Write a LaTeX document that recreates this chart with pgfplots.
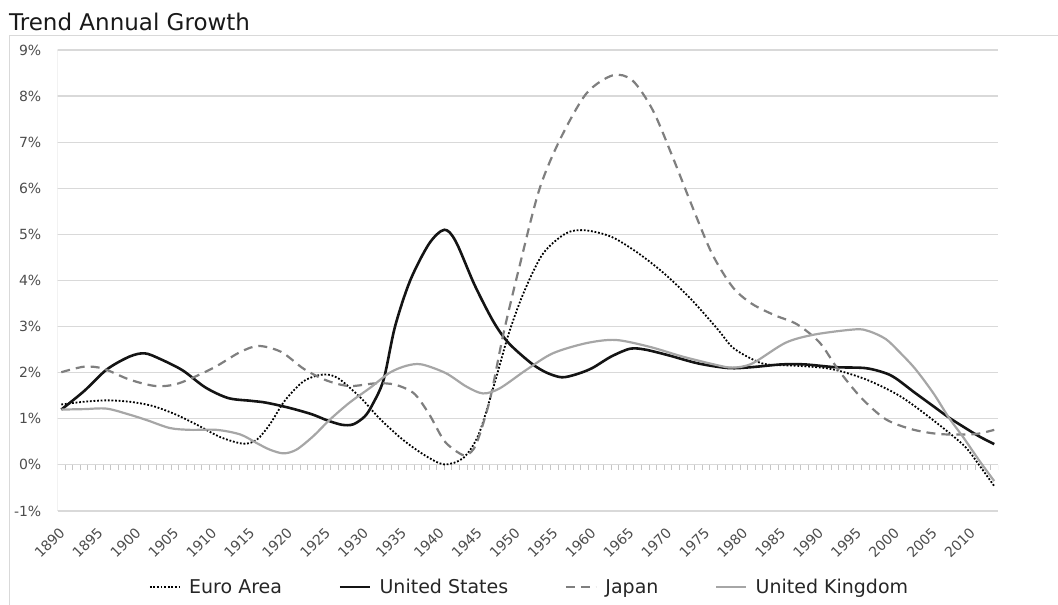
\documentclass[border=0pt]{standalone}
\usepackage{fontspec}
\setmainfont{DejaVu Sans}
\usepackage{pgfplots}
\pgfplotsset{compat=1.18}
\definecolor{gridc}{HTML}{D9D9D9}
\definecolor{lab}{HTML}{4D4D4D}
\definecolor{jp}{HTML}{7F7F7F}
\definecolor{uk}{HTML}{A6A6A6}

\begin{document}
\begin{tikzpicture}
\begin{axis}[
  name=ax,
  scale only axis,
  width=940.5bp, height=461bp,
  xmin=1889.5, xmax=2013.5,
  ymin=-1, ymax=9,
  axis line style={draw=none},
  major tick length=0pt,
  xtick={1890,1895,...,2010},
  xticklabels={1890,1895,1900,1905,1910,1915,1920,1925,1930,1935,1940,1945,1950,1955,1960,1965,1970,1975,1980,1985,1990,1995,2000,2005,2010},
  ytick={-1,0,...,9},
  yticklabels={-1\%,0\%,1\%,2\%,3\%,4\%,5\%,6\%,7\%,8\%,9\%},
  ticklabel style={font=\fontsize{14bp}{16bp}\selectfont, text=lab, inner sep=0pt},
  xticklabel style={xshift=1bp, yshift=-19bp, rotate=45, anchor=east},
  yticklabel style={xshift=-16bp, anchor=east},
  ymajorgrids,
  grid style={gridc, line width=1.2bp},
  legend columns=4,
  legend style={at={(axis description cs:0.5,0)}, anchor=center, yshift=-76bp, xshift=2bp,
    draw=none, fill=none, font=\fontsize{19bp}{22bp}\selectfont,
    /tikz/every even column/.append style={column sep=54bp},
    nodes={inner sep=2.5bp, text=black!85}},
  legend image code/.code={\draw[#1] (0bp,0bp) -- (30bp,0bp); \path (36bp,0bp);},
]
% left axis line, its ticks, and the small year ticks under 0%
\draw[gridc, line width=1.2bp] (axis cs:1889.5,-1) -- (axis cs:1889.5,9);
\pgfplotsinvokeforeach{-1,0,...,9}{
  \draw[gridc, line width=1.2bp] (axis cs:1889.5,#1) -- ++(-5bp,0bp);
}
\pgfplotsinvokeforeach{1890,...,2013}{
  \draw[gridc!80!black!70, line width=0.9bp] (axis cs:#1.5,0) -- ++(0bp,-5bp);
}

\addplot[black, line width=1.8bp, dash pattern=on 1.8bp off 1.8bp, smooth] coordinates {
(1890,1.31) (1893,1.37) (1896,1.40) (1899,1.37) (1902,1.28) (1905,1.10)
(1908,0.86) (1911,0.60) (1914,0.46) (1915.8,0.55) (1917.5,0.88) (1919.5,1.40)
(1922,1.82) (1924.5,1.96) (1926.5,1.88) (1929.5,1.45) (1932,1.00) (1935,0.55)
(1938,0.20) (1940.5,0.01) (1943,0.15) (1945,0.65) (1947,1.70) (1949,2.85)
(1951,3.75) (1953.5,4.58) (1956.5,5.02) (1959,5.09) (1962.5,4.95) (1966,4.60)
(1969.5,4.15) (1973,3.60) (1976.5,2.95) (1978.5,2.55) (1981,2.30) (1983,2.18)
(1987,2.15) (1991.5,2.08) (1996,1.86) (2000.5,1.50) (2004.8,0.99) (2009,0.42)
(2011,0.00) (2013,-0.46)
};
\addlegendentry{Euro Area}

\addplot[black!92, line width=2.6bp, smooth] coordinates {
(1890,1.20) (1893,1.60) (1896,2.07) (1899,2.35) (1901,2.42) (1903,2.30)
(1906,2.05) (1909,1.68) (1912,1.45) (1915,1.39) (1917,1.35) (1920,1.24)
(1923,1.10) (1925,0.97) (1927,0.87) (1928.5,0.88) (1930,1.05) (1931,1.30)
(1932.5,1.85) (1934,3.00) (1936,4.00) (1938.5,4.80) (1940.5,5.10) (1942,4.85)
(1944.5,3.90) (1947,3.10) (1949,2.64) (1952,2.20) (1954,2.00) (1956,1.90)
(1958,1.97) (1960,2.10) (1962.5,2.35) (1965,2.52) (1967,2.50) (1970,2.38)
(1974,2.20) (1978,2.10) (1981,2.12) (1985,2.18) (1988,2.18) (1992,2.12)
(1996,2.10) (1998.5,2.00) (2000,1.88) (2002.5,1.57) (2005,1.27) (2007,1.03)
(2009,0.82) (2011,0.62) (2013,0.45)
};
\addlegendentry{United States}

\addplot[jp, line width=2.2bp, dash pattern=on 9bp off 6bp, smooth] coordinates {
(1890,2.01) (1893,2.13) (1895.5,2.09) (1899,1.85) (1902.5,1.71) (1905.5,1.77)
(1910,2.10) (1913.5,2.44) (1916,2.58) (1919,2.45) (1922,2.08) (1925,1.83)
(1928,1.71) (1931.5,1.77) (1934,1.74) (1936.5,1.55) (1938.5,1.10) (1940.5,0.52)
(1942.5,0.25) (1943.5,0.22) (1944.7,0.45) (1946.5,1.41) (1948.3,2.85) (1950.4,4.30)
(1953,5.96) (1955.7,7.04) (1959.2,8.05) (1962.7,8.45) (1965.3,8.34) (1968,7.69)
(1970.6,6.68) (1973.2,5.60) (1975.8,4.58) (1978.5,3.86) (1981,3.50) (1984,3.25)
(1987,3.05) (1990,2.65) (1992.5,2.05) (1995.5,1.45) (1998.7,0.99) (2002.2,0.77)
(2005.7,0.67) (2009.2,0.66) (2011,0.68) (2013,0.76)
};
\addlegendentry{Japan}

\addplot[uk, line width=2.2bp, smooth] coordinates {
(1890,1.20) (1893,1.21) (1896,1.22) (1899,1.09) (1901.3,0.97) (1904.3,0.80)
(1907,0.76) (1910.5,0.76) (1913.6,0.66) (1915.8,0.47) (1917.5,0.33) (1919.3,0.25)
(1921,0.33) (1923.2,0.62) (1925.4,0.98) (1928,1.35) (1930.7,1.67) (1933.3,2.00)
(1935.5,2.15) (1937.5,2.18) (1940.7,1.99) (1943.4,1.70) (1945.6,1.55) (1947.8,1.66)
(1951.3,2.06) (1954.8,2.42) (1959.2,2.64) (1963.1,2.71) (1967.6,2.56) (1971.9,2.35)
(1976.3,2.17) (1978.5,2.11) (1981.1,2.20) (1985.5,2.65) (1989.4,2.83) (1994.7,2.94)
(1996.5,2.90) (1998.7,2.73) (2000.5,2.45) (2002.6,2.08) (2005,1.55) (2007,1.03)
(2009,0.58) (2011,0.10) (2013,-0.35)
};
\addlegendentry{United Kingdom}
\end{axis}

\node[anchor=base west, font=\fontsize{23bp}{26bp}\selectfont, inner sep=0pt, text=black!90]
  at ([xshift=-48.5bp, yshift=480.3bp]ax.south west) {Trend Annual Growth};
\draw[gridc, line width=1bp]
  ([xshift=-47.5bp, yshift=-94bp]ax.south west) -- ([xshift=-47.5bp, yshift=475bp]ax.south west)
  -- ([xshift=60bp, yshift=475bp]ax.south east);
\pgfresetboundingbox
\path[use as bounding box] ([xshift=-57.5bp, yshift=-94bp]ax.south west)
  rectangle ([xshift=60bp, yshift=50bp]ax.north east);
\end{tikzpicture}
\end{document}
